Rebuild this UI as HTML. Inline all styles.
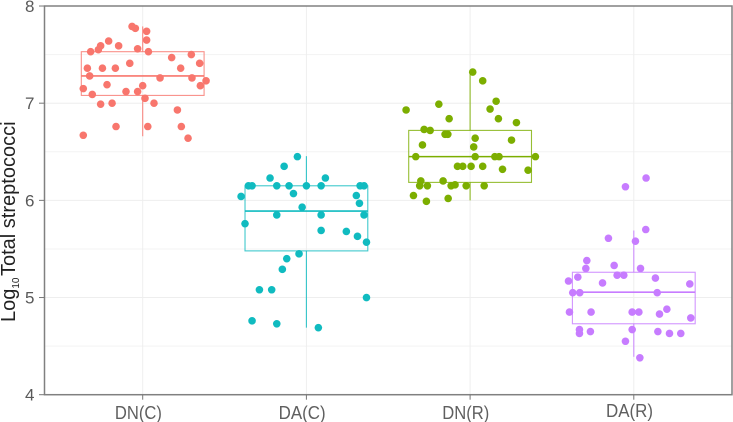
<!DOCTYPE html>
<html>
<head>
<meta charset="utf-8">
<style>
html,body{margin:0;padding:0;background:#fff;}
svg{display:block;}
text{font-family:"Liberation Sans",sans-serif;}
</style>
</head>
<body>
<svg id="chart" width="733" height="422" viewBox="0 0 733 422" xmlns="http://www.w3.org/2000/svg">
<text transform="translate(15,322) rotate(-90)" font-size="20" fill="#222">Log<tspan font-size="10" dy="4">10</tspan><tspan dy="-4" dx="1.5">Total streptococci</tspan></text>
</svg>
<script>
const categories = ['DN(C)', 'DA(C)', 'DN(R)', 'DA(R)'];
const colors = ['#F8766D', '#10BBC0', '#7CAE00', '#C77CFF'];
const yTicks = [4, 5, 6, 7, 8];
const yMinor = [4.5, 5.5, 6.5, 7.5];

const q1Values = [7.08, 5.48, 6.185, 4.73];
const medians = [7.28, 5.89, 6.45, 5.055];
const q3Values = [7.53, 6.15, 6.72, 5.26];
const whiskerLow = [6.66, 4.69, 6.0, 4.39];
const whiskerHigh = [7.79, 6.455, 7.32, 5.69];

const jitterDNC = [-.065,-.045,.024,.024,-.031,.035,-.257,-.271,-.318,-.208,-.147,.177,.297,.348,-.079,-.338,-.246,-.167,.232,-.324,.106,.301,.387,.352,-.218,0,-.102,-.031,-.363,-.308,.014,-.257,-.187,.069,.212,-.163,.031,.236,-.363,.277];
const valuesDNC = [7.79,7.77,7.74,7.65,7.56,7.53,7.59,7.55,7.53,7.64,7.59,7.47,7.50,7.41,7.41,7.36,7.36,7.36,7.36,7.28,7.26,7.26,7.23,7.18,7.19,7.18,7.12,7.12,7.15,7.09,7.05,6.99,7.00,7.00,6.93,6.76,6.76,6.76,6.67,6.64];

const jitterDAC = [-.055,-.136,-.222,.116,-.354,-.332,-.181,-.106,0,.09,.328,.352,-.079,-.399,.305,.324,-.026,-.181,.09,.352,-.375,.09,.244,.312,.367,-.045,-.12,-.147,-.287,-.212,.367,-.332,-.181,.073];
const valuesDAC = [6.45,6.35,6.23,6.23,6.15,6.15,6.15,6.15,6.15,6.15,6.15,6.15,6.07,6.04,6.05,5.97,5.93,5.85,5.85,5.85,5.76,5.69,5.68,5.63,5.57,5.45,5.40,5.29,5.08,5.08,5.0,4.76,4.73,4.69];

const jitterDNR = [.016,.077,.159,-.191,.122,-.391,-.128,.173,.283,-.281,-.244,-.153,-.136,.031,.253,-.291,.022,-.332,.031,.151,.177,.399,-.077,-.045,.006,.077,.198,.354,-.301,-.165,-.308,-.261,-.116,-.092,-.024,.086,-.346,-.134,-.267];
const valuesDNR = [7.32,7.23,7.02,6.99,6.94,6.93,6.84,6.84,6.80,6.73,6.72,6.68,6.68,6.64,6.62,6.57,6.55,6.45,6.45,6.45,6.45,6.45,6.35,6.35,6.35,6.35,6.32,6.31,6.20,6.20,6.15,6.15,6.15,6.16,6.15,6.15,6.05,6.02,5.99];

const jitterDAR = [-.051,.075,.073,-.155,.01,-.287,-.12,-.293,.041,-.102,-.061,.132,-.342,-.399,-.191,.342,-.373,-.33,.143,-.393,-.261,-.01,.031,.157,.202,.348,-.332,-.332,-.265,-.01,.147,.218,.287,-.051,.037];
const valuesDAR = [6.14,6.23,5.70,5.61,5.58,5.38,5.33,5.30,5.30,5.23,5.23,5.20,5.21,5.17,5.15,5.14,5.05,5.05,5.05,4.85,4.85,4.85,4.85,4.83,4.88,4.79,4.67,4.63,4.65,4.67,4.65,4.63,4.63,4.55,4.38];

const jitters = [jitterDNC, jitterDAC, jitterDNR, jitterDAR];
const values = [valuesDNC, valuesDAC, valuesDNR, valuesDAR];

const NS = 'http://www.w3.org/2000/svg';
const svg = document.getElementById('chart');
const panel = {left: 44.5, right: 732, top: 6, bottom: 394.7};
const boxHalf = 0.375;

function xScale(pos) { return 142.7 + pos * 163.7; }
function yScale(v) { return panel.bottom - (v - 4) * 97.17; }

function make(tag, attrs) {
  const el = document.createElementNS(NS, tag);
  for (const k in attrs) el.setAttribute(k, attrs[k]);
  svg.appendChild(el);
  return el;
}

yMinor.forEach(function (v) {
  const el = make('line', {x1: panel.left, x2: panel.right, y1: yScale(v), y2: yScale(v), stroke: '#f3f3f3', 'stroke-width': 1});
  
  
});
yTicks.forEach(function (v) {
  const el = make('line', {x1: panel.left, x2: panel.right, y1: yScale(v), y2: yScale(v), stroke: '#eeeeee', 'stroke-width': 1});
  
  
});
categories.forEach(function (c, i) {
  const el = make('line', {x1: xScale(i), x2: xScale(i), y1: panel.top, y2: panel.bottom, stroke: '#eeeeee', 'stroke-width': 1});
  
  
});

categories.forEach(function (c, i) {
  const x0 = xScale(i - boxHalf), x1 = xScale(i + boxHalf), cx = xScale(i);
  const box = make('rect', {x: x0, y: yScale(q3Values[i]), width: x1 - x0, height: yScale(q1Values[i]) - yScale(q3Values[i]), fill: 'none', stroke: colors[i], 'stroke-width': 1.1, 'stroke-opacity': 0.8});
  
  
  const med = make('line', {x1: x0, x2: x1, y1: yScale(medians[i]), y2: yScale(medians[i]), stroke: colors[i], 'stroke-width': 1.6});
  
  
  const wh = make('line', {x1: cx, x2: cx, y1: yScale(q3Values[i]), y2: yScale(whiskerHigh[i]), stroke: colors[i], 'stroke-width': 1.1, 'stroke-opacity': 0.85});
  
  
  const wl = make('line', {x1: cx, x2: cx, y1: yScale(q1Values[i]), y2: yScale(whiskerLow[i]), stroke: colors[i], 'stroke-width': 1.1, 'stroke-opacity': 0.85});
  
  
  values[i].forEach(function (v, j) {
    const p = make('circle', {cx: xScale(i + jitters[i][j]), cy: yScale(v), r: 3.8, fill: colors[i]});
    
    
  });
});

const frame = make('rect', {x: panel.left, y: panel.top, width: panel.right - panel.left, height: panel.bottom - panel.top, fill: 'none', stroke: '#808080', 'stroke-width': 1.5});



yTicks.forEach(function (v) {
  const t = make('line', {x1: 39, x2: panel.left, y1: yScale(v), y2: yScale(v), stroke: '#777', 'stroke-width': 1});
  
  
  const l = make('text', {x: 34.5, y: yScale(v) + 6, 'text-anchor': 'end', 'font-size': 17, fill: '#595959'});
  l.textContent = v;
  
  
});

categories.forEach(function (c, i) {
  const t = make('line', {x1: xScale(i), x2: xScale(i), y1: panel.bottom, y2: panel.bottom + 5, stroke: '#777', 'stroke-width': 1});
  
  
  const l = make('text', {x: xScale(i) - 4.3, y: i === 3 ? 417 : 419, 'text-anchor': 'middle', 'font-size': 18, textLength: 47, lengthAdjust: 'spacingAndGlyphs', fill: '#5f5f5f'});
  l.textContent = c;
  
  
});
</script>
</body>
</html>
